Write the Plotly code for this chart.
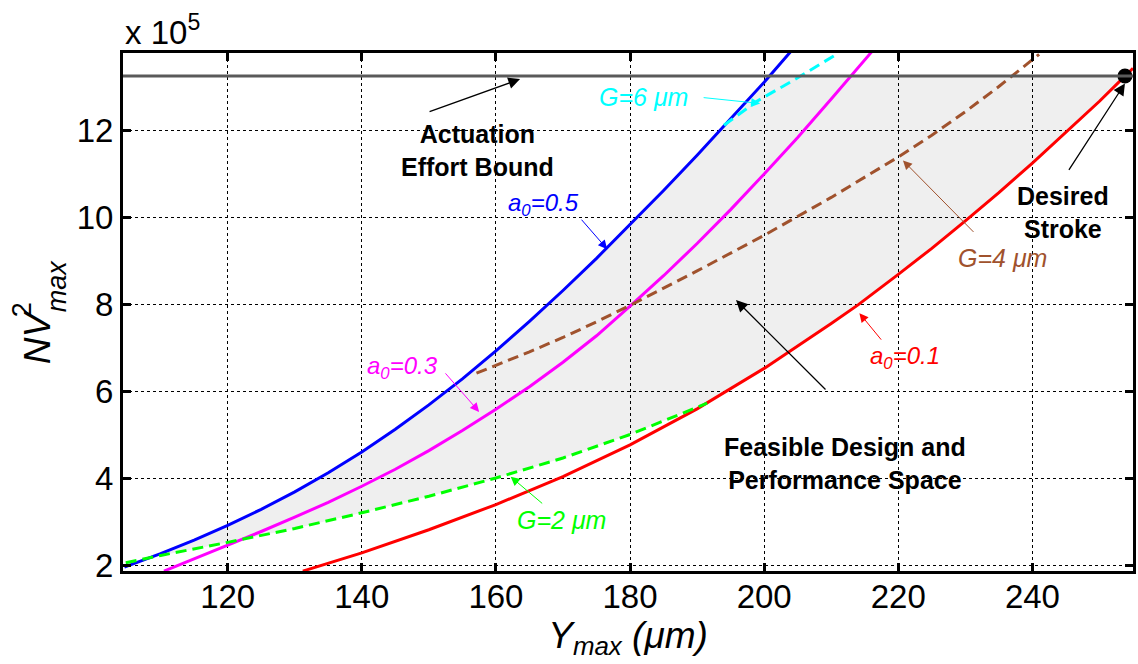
import numpy as np
import plotly.graph_objects as go

# Stroke Y_max (um) against actuation effort NV^2_max (in units of 1e5)
blue_x = [104.6, 110, 115, 120, 125, 130, 135, 140, 145, 150, 155, 160, 165, 170, 175, 180, 185, 190, 195, 200, 204.0]
blue_y = [1.95, 2.26, 2.57, 2.91, 3.28, 3.68, 4.12, 4.6, 5.12, 5.68, 6.28, 6.92, 7.6, 8.31, 9.05, 9.82, 10.61, 11.42, 12.25, 13.1, 13.81]

magenta_x = [110.5, 115, 120, 125, 130, 135, 140, 145, 150, 155, 160, 165, 170, 175, 180, 185, 190, 195, 200, 205, 210, 213.1, 216.0]
magenta_y = [1.86, 2.14, 2.45, 2.77, 3.1, 3.44, 3.81, 4.2, 4.63, 5.09, 5.58, 6.1, 6.66, 7.27, 7.95, 8.65, 9.39, 10.17, 10.99, 11.83, 12.71, 13.26, 13.79]

red_x = [131.2, 140, 150, 160, 170, 180, 190, 200, 210, 214, 220, 225, 230, 235, 240, 245, 250, 253.8, 255.0]
red_y = [1.86, 2.28, 2.81, 3.39, 4.03, 4.76, 5.59, 6.52, 7.55, 7.98, 8.68, 9.28, 9.91, 10.56, 11.24, 11.94, 12.66, 13.24, 13.42]

green_x = [104.8, 110, 120, 130, 140, 150, 160, 170, 180, 191.5]
green_y = [2.05, 2.22, 2.52, 2.84, 3.2, 3.58, 4.0, 4.46, 5.0, 5.72]

brown_x = [157.1, 165, 170, 175, 180.4, 190, 200, 210, 220, 225, 230, 235, 241.0]
brown_y = [6.41, 6.9, 7.23, 7.59, 8.0, 8.76, 9.58, 10.45, 11.38, 11.88, 12.42, 13.0, 13.74]

cyan_x = [194.0, 198.8, 205, 211.1]
cyan_y = [12.11, 12.65, 13.2, 13.77]

effort_bound = 13.24
desired_stroke = 253.8

x_ticks = [120, 140, 160, 180, 200, 220, 240]
y_ticks = [2, 4, 6, 8, 10, 12]
x_range = [104.39, 255.0]
y_range = [1.862, 13.77]

FONT = "Liberation Sans, Arial, sans-serif"
BROWN = "#A0522D"


def reach(xs, ys, level):
    """x at which a rising curve reaches the given level."""
    return float(np.interp(level, ys, xs))


# Feasible region: left by a0=0.5, top by the effort bound,
# right by a0=0.1 and bottom by the G=2 um gap curve.
xb = reach(blue_x, blue_y, effort_bound)
xr = reach(red_x, red_y, effort_bound)
poly = [(x, y) for x, y in zip(blue_x, blue_y) if y < effort_bound]
poly += [(xb, effort_bound), (xr, effort_bound)]
red_seg = [(x, y) for x, y in zip(red_x, red_y) if green_x[-1] < x < xr]
poly += red_seg[::-1]
poly += list(zip(green_x, green_y))[::-1]
path = "M " + " L ".join(f"{x:.3f},{y:.3f}" for x, y in poly) + " Z"

fig = go.Figure()

solid = dict(mode="lines", showlegend=False, hoverinfo="skip")
fig.add_trace(go.Scatter(x=blue_x, y=blue_y, line=dict(color="#0000FF", width=3), **solid))
fig.add_trace(go.Scatter(x=magenta_x, y=magenta_y, line=dict(color="#FF00FF", width=3), **solid))
fig.add_trace(go.Scatter(x=red_x, y=red_y, line=dict(color="#FF0000", width=3), **solid))
fig.add_trace(go.Scatter(x=green_x, y=green_y, line=dict(color="#00FF00", width=3, dash="11px,6px"), **solid))
fig.add_trace(go.Scatter(x=brown_x, y=brown_y, line=dict(color=BROWN, width=3, dash="11px,6px"), **solid))
fig.add_trace(go.Scatter(x=cyan_x, y=cyan_y, line=dict(color="#00FFFF", width=3, dash="11px,6px"), **solid))
fig.add_trace(go.Scatter(x=[desired_stroke], y=[effort_bound], mode="markers",
                         marker=dict(color="black", size=15), showlegend=False, hoverinfo="skip"))

fig.add_shape(type="path", path=path, xref="x", yref="y", fillcolor="#EFEFEF",
              line=dict(width=0), layer="below")
fig.add_shape(type="line", xref="x domain", yref="y", x0=0, x1=1, y0=effort_bound, y1=effort_bound,
              line=dict(color="#5A5A5A", width=3), layer="above")

ann = []


def label(x, y, text, color, size, bold=False):
    t = f"<b>{text}</b>" if bold else text
    ann.append(dict(x=x, y=y, xref="x", yref="y", text=t, showarrow=False,
                    font=dict(family=FONT, size=size, color=color),
                    xanchor="center", yanchor="middle"))


def arrow(x, y, ax, ay, color, width=1.0):
    ann.append(dict(x=x, y=y, xref="x", yref="y", ax=ax, ay=ay, text="", showarrow=True,
                    arrowhead=2, arrowsize=1.8, arrowwidth=width, arrowcolor=color))


label(157.2, 11.54, "Actuation<br>Effort Bound", "black", 25, bold=True)
arrow(163.6, 13.17, -92, 33, "black", 1.3)

label(182.0, 12.76, "<i>G=6 μm</i>", "#00FFFF", 25)
arrow(199.4, 12.61, -58, -6, "#00FFFF")

label(167.1, 10.28, "<i>a</i><sub><i>0</i></sub><i>=0.5</i>", "#0000FF", 24)
arrow(176.6, 9.26, -27, -31, "#0000FF")

label(146.0, 6.53, "<i>a</i><sub><i>0</i></sub><i>=0.3</i>", "#FF00FF", 24)
arrow(157.5, 5.52, -35, -40, "#FF00FF")

label(169.8, 3.03, "<i>G=2 μm</i>", "#00FF00", 25)
arrow(162.2, 4.03, 33, 28, "#00FF00")

label(212.05, 4.34, "Feasible Design and<br>Performance Space", "black", 25, bold=True)
arrow(195.8, 8.09, 91, 91, "black", 1.3)

label(221.0, 6.76, "<i>a</i><sub><i>0</i></sub><i>=0.1</i>", "#FF0000", 24)
arrow(214.2, 7.79, 23, 28, "#FF0000")

label(235.5, 9.06, "<i>G=4 μm</i>", BROWN, 25)
arrow(220.7, 11.3, 72, 73, BROWN)

label(244.5, 10.11, "Desired<br>Stroke", "black", 25, bold=True)
arrow(253.8, 13.07, -57, 88, "black", 1.3)

# axis multiplier
ann.append(dict(x=0, y=1, xref="paper", yref="paper", xanchor="left", yanchor="bottom",
                text="x 10<sup>5</sup>", showarrow=False,
                font=dict(family=FONT, size=33, color="black")))

# y-axis title with stacked super/subscript
ann.append(dict(x=-0.0849, y=0.4517, xref="paper", yref="paper", text="<i>NV</i>", textangle=-90,
                showarrow=False, xanchor="center", yanchor="middle",
                font=dict(family=FONT, size=37, color="black")))
ann.append(dict(x=-0.0997, y=0.5039, xref="paper", yref="paper", text="2", textangle=-90,
                showarrow=False, xanchor="center", yanchor="middle",
                font=dict(family=FONT, size=27, color="black")))
ann.append(dict(x=-0.0652, y=0.5502, xref="paper", yref="paper", text="<i>max</i>", textangle=-90,
                showarrow=False, xanchor="center", yanchor="middle",
                font=dict(family=FONT, size=27, color="black")))

axis_common = dict(showline=True, linecolor="black", linewidth=3, mirror="ticks",
                   ticks="inside", ticklen=8, tickwidth=2.5, tickcolor="black",
                   showgrid=True, gridcolor="black", griddash="dot", gridwidth=1,
                   zeroline=False, tickfont=dict(family=FONT, size=33, color="black"))

fig.update_layout(
    width=1138, height=664,
    margin=dict(l=123, r=2, t=53, b=93),
    paper_bgcolor="white", plot_bgcolor="white",
    showlegend=False,
    annotations=ann,
    xaxis=dict(range=x_range, tickvals=x_ticks, ticklabelstandoff=-6, **axis_common,
               title=dict(text="<i>Y</i><sub><i>max</i></sub><i> (μm)</i>",
                          font=dict(family=FONT, size=37, color="black"), standoff=0)),
    yaxis=dict(range=y_range, tickvals=y_ticks, **axis_common),
)

fig.write_html("out.html")
